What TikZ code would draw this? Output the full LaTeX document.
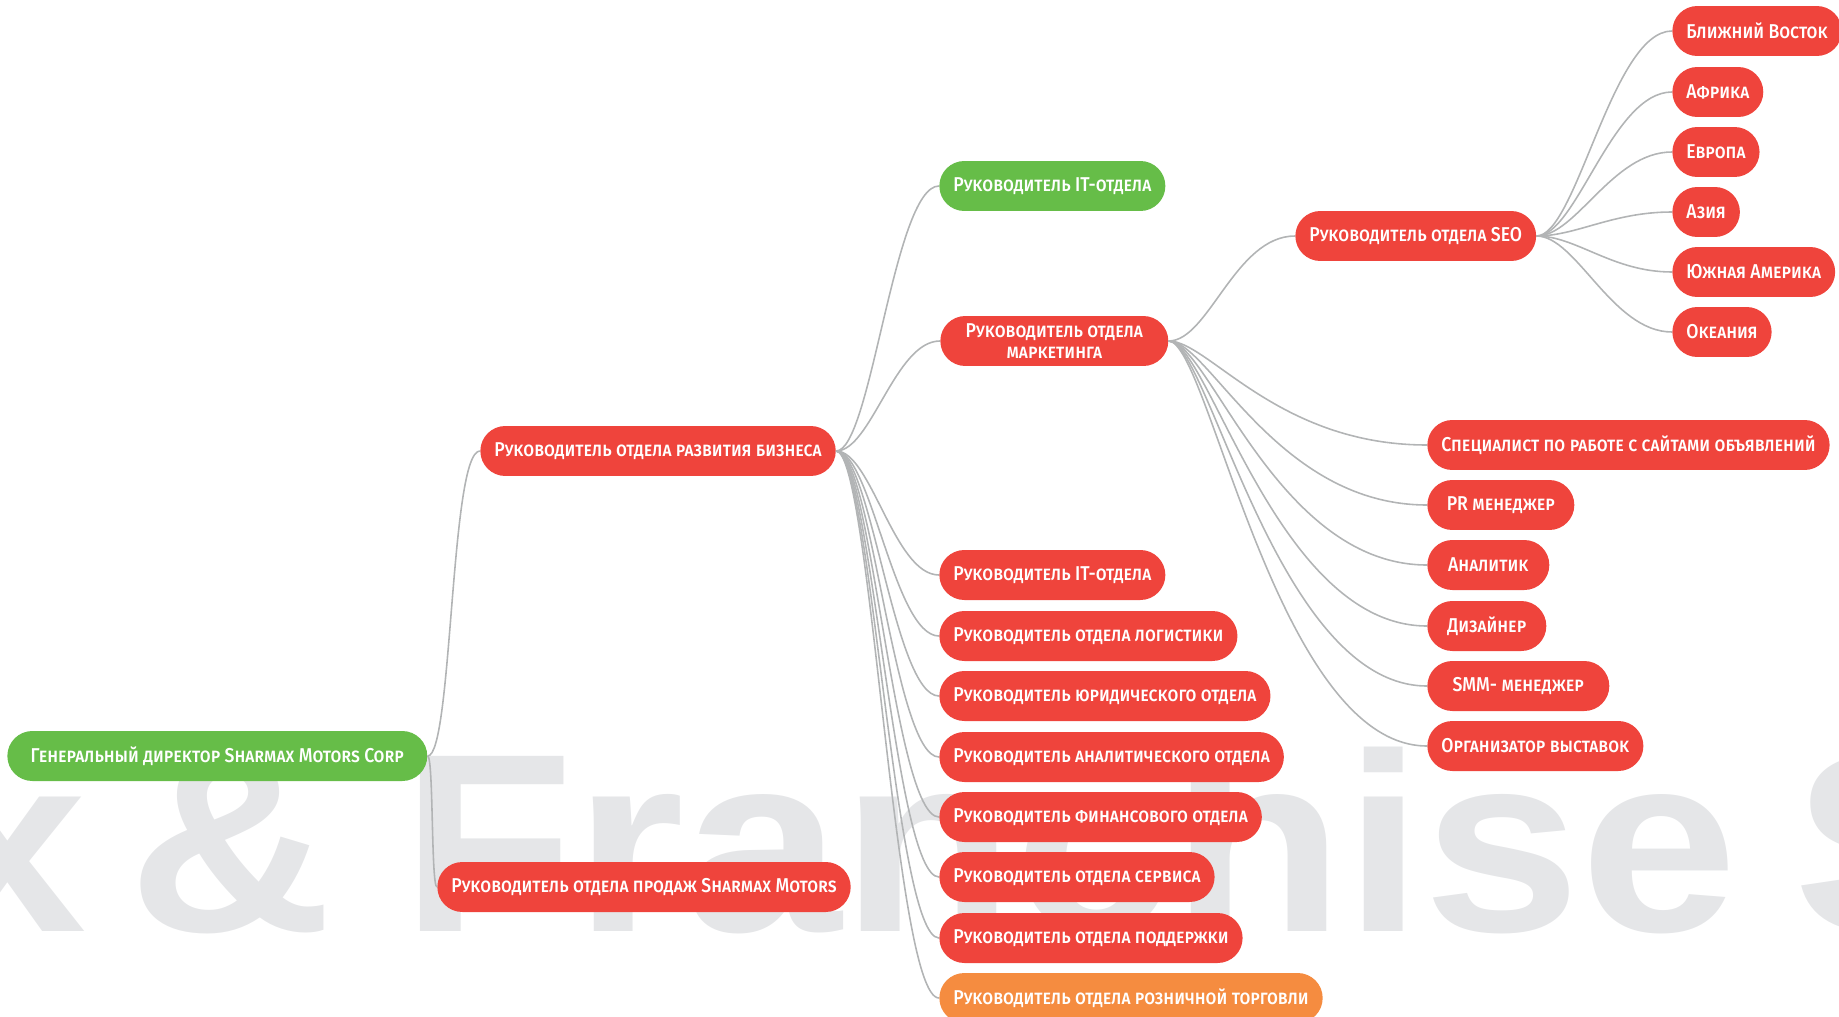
\documentclass[tikz,border=0pt]{standalone}
\usepackage{fontspec}
\setmainfont{Fira Sans}
\newfontfamily\nodefont{Fira Sans Medium}[FakeStretch=0.88]
\newfontfamily\markfont{Liberation Sans}
\definecolor{Red}{HTML}{EF443C}
\definecolor{Green}{HTML}{66BD48}
\definecolor{Orange}{HTML}{F58C40}
\definecolor{Line}{HTML}{B2B4B5}
\definecolor{Mark}{HTML}{E5E6E8}

\begin{document}
\begin{tikzpicture}[x=0.02cm,y=-0.02cm,
    box/.style={rounded corners=0.5cm,minimum height=1cm,inner xsep=0.28cm,
      inner ysep=0pt,anchor=west,text=white,
      font=\nodefont\fontsize{11.4}{12}\selectfont\scshape},
    redbox/.style={box,fill=Red},
    greenbox/.style={box,fill=Green},
    orangebox/.style={box,fill=Orange},
    wmark/.style={anchor=base west,inner sep=0pt,text=Mark,
      font=\markfont\bfseries\fontsize{161}{161}\selectfont},
    link/.style={draw=Line,line width=0.9pt}
  ]
    \clip (0,0) rectangle (1839,1017);
    % watermark
    \node[wmark] (markl) at (-71,931) {\scalebox{1}[0.9]{x\hspace{0.15em}\&}};
    \node[wmark] (markr) at (401,931) {\scalebox{1}[0.9]{Franchise\hspace{0.2em}S}};

    \node[greenbox,minimum width=8.4cm] (root) at (7,756) {Генеральный директор Sharmax Motors Corp};
    \node[redbox] (bizdev) at (480,451) {Руководитель отдела развития бизнеса};
    \node[redbox] (sales) at (437,887) {Руководитель отдела продаж Sharmax Motors};

    \node[greenbox] (itg) at (939,186) {Руководитель IT-отдела};
    \node[redbox,align=center,minimum width=4.56cm] (mkt) at (940,341) {Руководитель отдела\\маркетинга};
    \node[redbox] (itr) at (939,575) {Руководитель IT-отдела};
    \node[redbox] (logist) at (939,636) {Руководитель отдела логистики};
    \node[redbox] (legal) at (939,696) {Руководитель юридического отдела};
    \node[redbox] (analyt) at (939,757) {Руководитель аналитического отдела};
    \node[redbox] (fin) at (939,817) {Руководитель финансового отдела};
    \node[redbox] (service) at (939,877) {Руководитель отдела сервиса};
    \node[redbox] (support) at (939,938) {Руководитель отдела поддержки};
    \node[orangebox] (retail) at (939,998) {Руководитель отдела розничной торговли};

    \node[redbox] (seo) at (1295,236) {Руководитель отдела SEO};
    \node[redbox] (ads) at (1427,445) {Специалист по работе с сайтами объявлений};
    \node[redbox,minimum width=2.94cm] (pr) at (1427,505) {PR менеджер};
    \node[redbox,minimum width=2.44cm] (analyst) at (1427,565) {Аналитик};
    \node[redbox,minimum width=2.38cm] (designer) at (1427,626) {Дизайнер};
    \node[redbox,minimum width=3.64cm] (smm) at (1427,686) {SMM- менеджер};
    \node[redbox] (expo) at (1427,746) {Организатор выставок};

    \node[redbox] (mideast) at (1672,31) {Ближний Восток};
    \node[redbox] (africa) at (1672,92) {Африка};
    \node[redbox] (europe) at (1672,152) {Европа};
    \node[redbox] (asia) at (1672,212) {Азия};
    \node[redbox] (samerica) at (1672,272) {Южная Америка};
    \node[redbox] (oceania) at (1672,332) {Океания};

    % connectors
    \draw[link] (root.east) .. controls +(25,0) and +(-30,0) .. (bizdev.west);
    \draw[link] (root.east) .. controls +(6,0) and +(-6,0) .. (sales.west);
    \foreach \c in {itg,mkt,itr,logist,legal,analyt,fin,service,support,retail}
      \draw[link] (bizdev.east) .. controls +(35,0) and +(-45,0) .. (\c.west);
    \draw[link] (mkt.east) .. controls +(40,0) and +(-60,0) .. (seo.west);
    \foreach \c in {ads,pr,analyst,designer,smm,expo}
      \draw[link] (mkt.east) .. controls +(40,0) and +(-150,0) .. (\c.west);
    \foreach \c in {mideast,africa,europe,asia,samerica,oceania}
      \draw[link] (seo.east) .. controls +(40,0) and +(-60,0) .. (\c.west);
  \end{tikzpicture}
\end{document}
